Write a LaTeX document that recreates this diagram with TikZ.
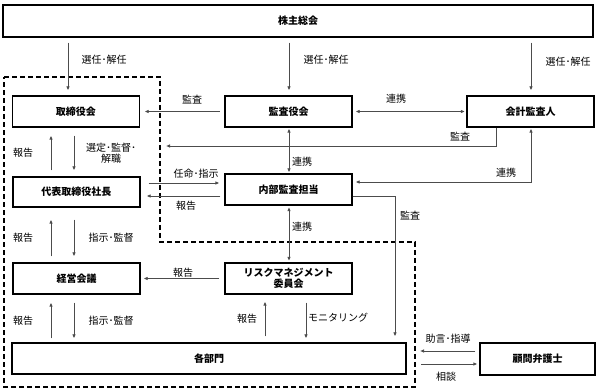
\documentclass[tikz,border=0pt]{standalone}
\usepackage{fontspec}
\setmainfont{Noto Sans CJK JP}
\usetikzlibrary{arrows.meta,calc}
\begin{document}
\begin{tikzpicture}[x=1pt,y=-1pt,
  box/.style={draw=black, line width=1.3pt, minimum height=31pt, minimum width=127pt, inner sep=0pt, fill=white, font=\fontsize{10}{11}\selectfont\bfseries},
  arr/.style={draw=black!70, line width=0.8pt, -{Latex[length=4pt,width=3.6pt]}},
  darr/.style={draw=black!70, line width=0.8pt, {Latex[length=4pt,width=3.6pt]}-{Latex[length=4pt,width=3.6pt]}},
  lab/.style={font=\fontsize{10}{11}\selectfont, inner sep=0pt, text=black},
  grp/.style={draw=black, line width=1.3pt, dash pattern=on 5pt off 3pt},
  gap/.style={shorten <=#1, shorten >=#1}
]
\useasboundingbox (0,0) rectangle (598,390);

% dashed group
\draw[grp] (4,77) coordinate (g1) -- (160,77) coordinate (g2) -- (160,242) coordinate (g3) -- (415,242) coordinate (g4) -- (415,387) coordinate (g5) -- (4,387) coordinate (g6) -- cycle;

% boxes
\node[box, minimum width=590pt, minimum height=32pt] (sh) at (298,21) {株主総会};
\node[box] (tb) at (76,111.5) {取締役会};
\node[box] (ka) at (288.5,111.5) {監査役会};
\node[box] (kk) at (530.5,111.5) {会計監査人};
\node[box, minimum height=30pt] (dh) at (76.5,192) {代表取締役社長};
\node[box] (nb) at (288.5,189.5) {内部監査担当};
\node[box] (kg) at (76.5,278.5) {経営会議};
\node[box, align=center] (rm) at (288.5,278.5) {リスクマネジメント\\委員会};
\node[box, minimum width=394pt] (kb) at (209,358.5) {各部門};
\node[box, minimum width=115pt, minimum height=32pt] (km) at (537.5,359) {顧問弁護士};

% connectors
\draw[arr, gap=5pt] (sh.south -| 68,0) -- (tb.north -| 68,0);
\draw[arr, gap=5pt] (sh.south -| 289,0) -- (ka.north -| 289,0);
\draw[arr, gap=5pt] (sh.south -| 531,0) -- (kk.north -| 531,0);
\draw[arr, gap=4.5pt] (ka.west) -- (tb.east);
\draw[darr, shorten <=3pt, shorten >=1.5pt] (ka.east) -- (kk.west);
\draw[arr, shorten >=6pt] (kk.south -| 496,0) |- (g3 |- 0,146);
\draw[darr, gap=1pt] (ka.south -| 289,0) -- (nb.north -| 289,0);
\draw[darr, gap=1.5pt] (nb.south -| 289,0) -- (rm.north -| 289,0);
\draw[arr, shorten <=8pt, shorten >=5pt] (dh.east |- 0,183) -- (nb.west |- 0,183);
\draw[arr, shorten <=4pt, shorten >=6pt] (nb.west |- 0,196) -- (dh.east |- 0,196);
\draw[arr, shorten >=6pt] (nb.east |- 0,196) -| (kb.north -| 395,0);
\draw[darr, shorten <=3pt, shorten >=1pt] (nb.east |- 0,182) -| (kk.south -| 531,0);
\draw[arr, shorten <=6pt, shorten >=8pt] (dh.north -| 51,0) -- (tb.south -| 51,0);
\draw[arr, shorten <=8pt, shorten >=6pt] (tb.south -| 74,0) -- (dh.north -| 74,0);
\draw[arr, shorten <=6pt, shorten >=12pt] (kg.north -| 51,0) -- (dh.south -| 51,0);
\draw[arr, shorten <=12pt, shorten >=6pt] (dh.south -| 74,0) -- (kg.north -| 74,0);
\draw[arr, shorten <=4pt, shorten >=8pt] (kb.north -| 51,0) -- (kg.south -| 51,0);
\draw[arr, shorten <=8pt, shorten >=4pt] (kg.south -| 74,0) -- (kb.north -| 74,0);
\draw[arr, shorten <=5pt, shorten >=3pt] (rm.west) -- (kg.east);
\draw[arr, shorten <=6pt, shorten >=7pt] (kb.north -| 265,0) -- (rm.south -| 265,0);
\draw[arr, shorten <=8pt, shorten >=4pt] (rm.south -| 306,0) -- (kb.north -| 306,0);
\draw[arr, shorten <=4pt, shorten >=5pt] (km.west |- 0,351) -- (g4 |- 0,351);
\draw[arr, shorten <=6pt, shorten >=2pt] (g4 |- 0,364) -- (km.west |- 0,364);

% labels
\node[lab] (l1) at (104,60) {選任･解任};
\node[lab] (l2) at (326,60) {選任･解任};
\node[lab] (l3) at (568,62) {選任･解任};
\node[lab] (l4) at (192,100) {監査};
\node[lab] (l5) at (396,99) {連携};
\node[lab] (l6) at (460,137) {監査};
\node[lab, anchor=west] (l7) at (292,162) {連携};
\node[lab] (l8) at (196,174) {任命･指示};
\node[lab] (l9) at (186,206) {報告};
\node[lab, anchor=west] (l10) at (292,227) {連携};
\node[lab] (l11) at (410,216) {監査};
\node[lab] (l12) at (506,173) {連携};
\node[lab] (l13) at (23,153) {報告};
\node[lab, align=center] (l14) at (111,153) {選定･監督･\\解職};
\node[lab] (l15) at (23,238) {報告};
\node[lab] (l16) at (111,238) {指示･監督};
\node[lab] (l17) at (23,321) {報告};
\node[lab] (l18) at (111,321) {指示･監督};
\node[lab] (l19) at (183,273) {報告};
\node[lab] (l20) at (247,319) {報告};
\node[lab, anchor=west] (l21) at (308,318) {モニタリング};
\node[lab] (l22) at (448,339) {助言･指導};
\node[lab] (l23) at (446,377) {相談};
\end{tikzpicture}
\end{document}
